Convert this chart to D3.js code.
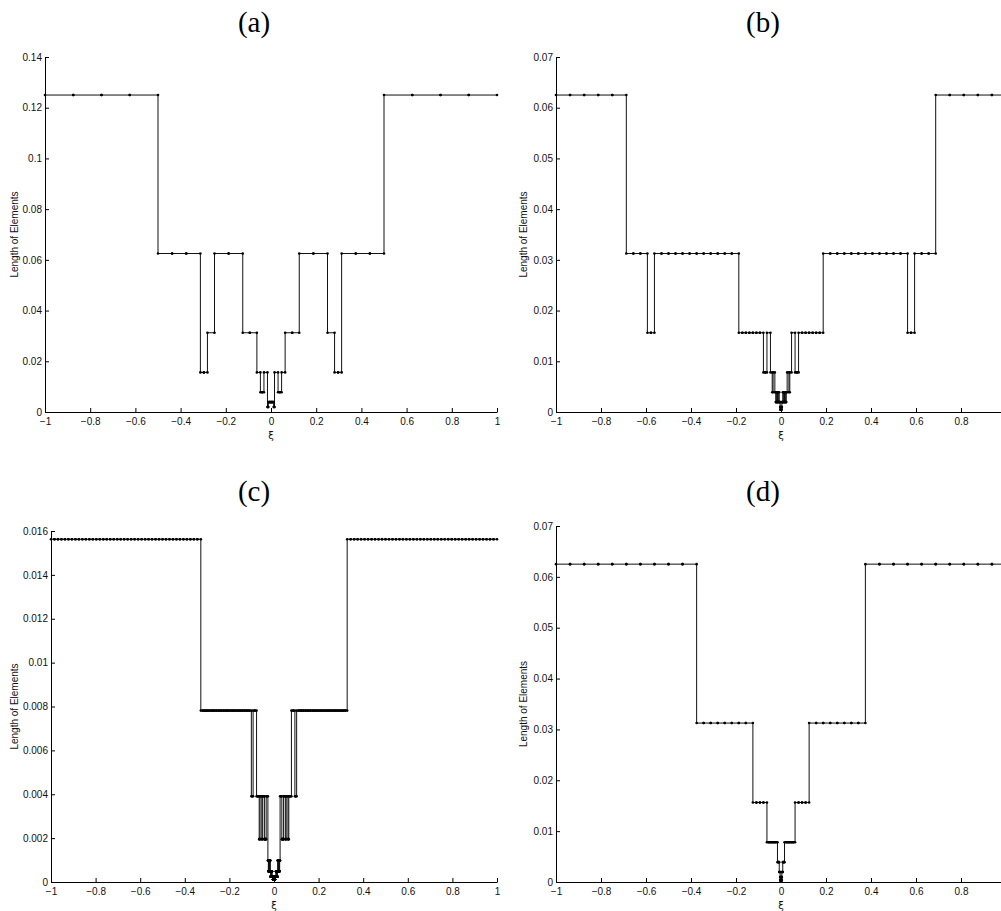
<!DOCTYPE html>
<html>
<head>
<meta charset="utf-8">
<script src="https://cdn.jsdelivr.net/npm/d3@7"></script>
<style>
  body { margin: 0; background: #fff; }
  svg { display: block; }
  .axis text { font-family: "Liberation Sans", Arial, sans-serif; font-size: 10px; fill: #111; }
  .axis path, .axis line { stroke: #000; stroke-width: 1; }
</style>
</head>
<body>
<div id="chart-area"></div>
<script>
// element length and number of elements with that length, left to right on [-1, 1]
const aSizes = [0.125, 0.0625, 0.015625, 0.03125, 0.0625, 0.03125, 0.015625, 0.0078125, 0.015625, 0.001953125, 0.00390625,
  0.001953125, 0.015625, 0.0078125, 0.015625, 0.03125, 0.0625, 0.03125, 0.015625, 0.0625, 0.125];
const aCounts = [4, 3, 2, 1, 2, 2, 1, 2, 1, 2, 6, 2, 1, 2, 1, 2, 2, 1, 2, 3, 4];

const bSizes = [0.0625, 0.03125, 0.015625, 0.03125, 0.015625, 0.0078125, 0.015625, 0.0078125, 0.00390625, 0.0078125,
  0.00390625, 0.001953125, 0.00390625, 0.001953125, 0.00390625, 0.001953125, 0.0009765625,
  0.00048828125,
  0.0009765625, 0.001953125, 0.00390625, 0.001953125, 0.00390625, 0.001953125, 0.00390625, 0.0078125, 0.00390625,
  0.0078125, 0.015625, 0.0078125, 0.015625, 0.03125, 0.015625, 0.03125, 0.0625];
const bCounts = [5, 3, 2, 12, 7, 2, 1, 1, 1, 1, 1, 2, 1, 2, 1, 2, 2,
  8,
  2, 2, 1, 2, 1, 2, 1, 1, 1, 1, 1, 2, 7, 12, 2, 3, 5];

const cSizes = [0.015625, 0.0078125, 0.00390625, 0.0078125, 0.00390625, 0.001953125, 0.00390625, 0.001953125, 0.00390625,
  0.001953125, 0.00390625,
  0.0009765625, 0.00048828125, 0.0009765625, 0.00048828125, 0.0009765625, 0.00048828125, 0.0009765625, 0.00048828125,
  0.00048828125, 0.000244140625, 0.00048828125, 0.000244140625, 0.00048828125, 0.000244140625, 0.00048828125, 0.000244140625,
  0.000244140625,
  0.0001220703125,
  0.000244140625,
  0.000244140625, 0.00048828125, 0.000244140625, 0.00048828125, 0.000244140625, 0.00048828125, 0.000244140625, 0.00048828125,
  0.00048828125, 0.0009765625, 0.00048828125, 0.0009765625, 0.00048828125, 0.0009765625, 0.00048828125, 0.0009765625,
  0.00390625, 0.001953125, 0.00390625, 0.001953125, 0.00390625, 0.001953125, 0.00390625, 0.0078125, 0.00390625,
  0.0078125, 0.015625];
const cCounts = [43, 29, 2, 2, 3, 2, 2, 2, 2, 4, 2,
  2, 2, 2, 2, 2, 2, 2, 2,
  2, 4, 2, 4, 2, 4, 2, 4,
  16,
  64,
  16,
  4, 2, 4, 2, 4, 2, 4, 2,
  2, 2, 2, 2, 2, 2, 2, 2,
  2, 4, 2, 2, 2, 2, 3, 2, 2, 29, 43];

const dSizes = [0.0625, 0.03125, 0.015625, 0.0078125, 0.00390625, 0.001953125, 0.0009765625, 0.00048828125, 0.000244140625,
  0.00048828125, 0.0009765625, 0.001953125, 0.00390625, 0.0078125, 0.015625, 0.03125, 0.0625];
const dCounts = [10, 8, 4, 6, 2, 2, 2, 2, 8, 2, 2, 2, 2, 6, 4, 8, 10];

const xTicks = [-1, -0.8, -0.6, -0.4, -0.2, 0, 0.2, 0.4, 0.6, 0.8, 1];
const aTicks = [0, 0.02, 0.04, 0.06, 0.08, 0.1, 0.12, 0.14];
const bTicks = [0, 0.01, 0.02, 0.03, 0.04, 0.05, 0.06, 0.07];
const cTicks = [0, 0.002, 0.004, 0.006, 0.008, 0.01, 0.012, 0.014, 0.016];
const dTicks = [0, 0.01, 0.02, 0.03, 0.04, 0.05, 0.06, 0.07];

const titles = ["(a)", "(b)", "(c)", "(d)"];
const yTitle = "Length of Elements";
const xTitle = "ξ";

const W = 1001, H = 911;

const panels = [
  {sizes: aSizes, counts: aCounts, ticks: aTicks, title: titles[0], l: 45, r: 497, t: 57, b: 412, tx: 254, ty: 32, lx: 14},
  {sizes: bSizes, counts: bCounts, ticks: bTicks, title: titles[1], l: 556, r: 1006, t: 57, b: 412, tx: 763, ty: 32, lx: 523},
  {sizes: cSizes, counts: cCounts, ticks: cTicks, title: titles[2], l: 51, r: 497, t: 531, b: 882, tx: 254, ty: 501, lx: 14},
  {sizes: dSizes, counts: dCounts, ticks: dTicks, title: titles[3], l: 556, r: 1006, t: 526, b: 882, tx: 763, ty: 501, lx: 523}
];

const fmt = d => String(+d.toPrecision(6)).replace("-", "\u2212");

// each element gives two points: (left node, h) and (right node, h)
function meshPoints(sizes, counts) {
  let pts = [], x = -1;
  sizes.forEach((h, i) => {
    for (let k = 0; k < counts[i]; k++) {
      pts.push([x, h]);
      x += h;
      pts.push([x, h]);
    }
  });
  return pts;
}

let svg = d3.select("#chart-area")
  .append("svg")
  .attr("width", W)
  .attr("height", H);

panels.forEach(p => {
  let x = d3.scaleLinear().domain([-1, 1]).range([p.l, p.r]);
  let y = d3.scaleLinear().domain([0, d3.max(p.ticks)]).range([p.b, p.t]);

  // the right hand panels run past the page edge, so drop ticks that fall outside
  let shownX = xTicks.filter(v => x(v) <= W - 4);

  let g = svg.append("g");

  g.append("text")
    .attr("x", p.tx)
    .attr("y", p.ty)
    .attr("text-anchor", "middle")
    .attr("font-family", "'Liberation Serif', 'Times New Roman', serif")
    .attr("font-size", "29px")
    .text(p.title);

  g.append("g")
    .attr("class", "axis")
    .attr("transform", "translate(0," + p.b + ")")
    .call(d3.axisBottom(x).tickValues(shownX).tickFormat(fmt).tickSizeInner(-4).tickSizeOuter(0).tickPadding(6));

  g.append("g")
    .attr("class", "axis")
    .attr("transform", "translate(" + p.l + ",0)")
    .call(d3.axisLeft(y).tickValues(p.ticks).tickFormat(fmt).tickSizeInner(-4).tickSizeOuter(0).tickPadding(3));

  g.append("text")
    .attr("transform", "translate(" + p.lx + "," + ((p.t + p.b) / 2) + ") rotate(-90)")
    .attr("text-anchor", "middle")
    .attr("dominant-baseline", "central")
    .attr("font-family", "'Liberation Sans', Arial, sans-serif")
    .attr("font-size", "10px")
    .attr("fill", "#111")
    .text(yTitle);

  g.append("text")
    .attr("x", x(0))
    .attr("y", p.b + 23)
    .attr("text-anchor", "middle")
    .attr("dominant-baseline", "central")
    .attr("font-family", "'DejaVu Sans', sans-serif")
    .attr("font-size", "10px")
    .attr("fill", "#111")
    .text(xTitle);

  let pts = meshPoints(p.sizes, p.counts);

  g.append("path")
    .datum(pts)
    .attr("fill", "none")
    .attr("stroke", "#111")
    .attr("stroke-width", 1)
    .attr("d", d3.line().x(d => x(d[0])).y(d => y(d[1])));

  g.selectAll("circle")
    .data(pts)
    .enter().append("circle")
    .attr("cx", d => x(d[0]))
    .attr("cy", d => y(d[1]))
    .attr("r", 1.3)
    .attr("fill", "#000");
});
</script>
</body>
</html>
